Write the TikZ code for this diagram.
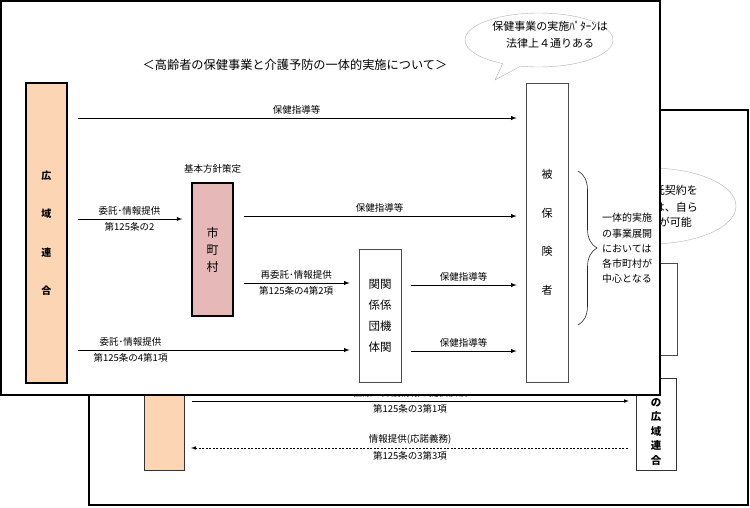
\documentclass[tikz,border=0pt]{standalone}
\usepackage{fontspec}
\setmainfont{Noto Sans CJK JP}
\usetikzlibrary{positioning,shapes.geometric,shapes.callouts,decorations.pathreplacing}
\definecolor{peach}{RGB}{252,213,180}
\definecolor{rose}{RGB}{230,185,184}

\begin{document}
\begin{tikzpicture}[x=1pt, y=-1pt, >=latex,
  card/.style = {draw, fill=white, line width=1.5pt},
  box/.style = {draw, rectangle, inner sep=0pt, align=center},
  lbl/.style = {font=\fontsize{9.5}{11}\selectfont, inner sep=3pt},
  arr/.style = {->, line width=0.9pt, shorten <=10pt, shorten >=9pt},
  thinarr/.style = {line width=0.6pt, shorten <=8pt, shorten >=7pt},
  memotext/.style = {font=\fontsize{11}{17}\selectfont, inner sep=0pt}]
\useasboundingbox (0,0) rectangle (750,507);

% back page
\draw[card] (89,110) rectangle (748,505);
\node[ellipse, draw=gray!60, minimum width=172pt, minimum height=76pt] (memo2) at (650,206) {};
\node[memotext, anchor=east] (m1) at (698,190) {託契約を};
\node[memotext, anchor=east] (m2) at (698,207) {は、自ら};
\node[memotext, anchor=east] (m3) at (692,222) {が可能};
\node[box, draw=gray!60!black, minimum width=41pt, minimum height=92pt] (r1) at (656.5,309) {};
\node[box, fill=peach, draw=gray!40!black, minimum width=40pt, minimum height=170pt] (kouiki2) at (164,385) {};
\node[box, draw=gray!40!black, minimum width=40pt, minimum height=92pt] (r2) at (656,424) {};
\node[font=\bfseries\fontsize{10.5}{14.5}\selectfont, align=center, inner sep=0pt] (r2txt) at (656,432) {の\\広\\域\\連\\合};
\draw[thinarr, ->] (kouiki2.east |- 0,401) -- (r2.west |- 0,401)
  node[lbl, midway, above] (b1) {医療・介護情報の提供依頼}
  node[lbl, midway, below] (b2) {第125条の3第1項};
\draw[thinarr, ->, dash pattern=on 2pt off 1.5pt] (r2.west |- 0,448) -- (kouiki2.east |- 0,448)
  node[lbl, midway, above] (b3) {情報提供(応諾義務)}
  node[lbl, midway, below] (b4) {第125条の3第3項};

% front page
\draw[card] (1,1) rectangle (660,395);
\node[font=\fontsize{12.2}{14}\selectfont] (title) at (295,65) {＜高齢者の保健事業と介護予防の一体的実施について＞};
\node[ellipse callout, draw=gray!60, fill=white, minimum width=148pt, minimum height=54pt,
  callout absolute pointer={(495,80)}] (memo) at (539,40) {};
\node[memotext, align=center] (memotxt) at (550,34.5) {保健事業の実施ﾊﾟﾀｰﾝは\\法律上４通りある};

\node[box, fill=peach, line width=1.5pt, minimum width=41pt, minimum height=300pt,
  font=\bfseries\fontsize{10}{38.5}\selectfont] (kouiki) at (46.5,233) {広\\域\\連\\合};
\node[box, fill=rose, line width=1.5pt, minimum width=41pt, minimum height=133pt,
  font=\fontsize{12}{17}\selectfont] (shi) at (212.5,249.5) {市\\町\\村};
\node[font=\fontsize{9.5}{11}\selectfont, inner sep=1pt] (kihon) [above=8pt of shi] {基本方針策定};
\node[box, draw=gray!60!black, line width=0.8pt, minimum width=42pt, minimum height=299pt,
  font=\fontsize{11}{38.5}\selectfont] (hiho) at (547,232.5) {被\\保\\険\\者};
\node[box, draw=gray!60!black, line width=0.8pt, minimum width=42pt, minimum height=133pt,
  font=\fontsize{11.5}{21}\selectfont] (kan) at (380,315.5) {関関\\係係\\団機\\体関};

\draw[arr] (kouiki.east |- 0,118) -- (hiho.west |- 0,118) node[lbl, midway, above] (l1) {保健指導等};
\draw[arr] (kouiki.east |- 0,219) -- (shi.west |- 0,219)
  node[lbl, midway, above] (l2) {委託･情報提供}
  node[lbl, midway, below] (l3) {第125条の2};
\draw[arr] (shi.east |- 0,216) -- (hiho.west |- 0,216) node[lbl, midway, above] (l4) {保健指導等};
\draw[arr] (shi.east |- 0,283) -- (kan.west |- 0,283)
  node[lbl, midway, above] (l5) {再委託･情報提供}
  node[lbl, midway, below] (l6) {第125条の4第2項};
\draw[arr] (kouiki.east |- 0,350) -- (kan.west |- 0,350)
  node[lbl, pos=0.216, above] (l7) {委託･情報提供}
  node[lbl, pos=0.216, below] (l8) {第125条の4第1項};
\draw[arr] (kan.east |- 0,285) -- (hiho.west |- 0,285) node[lbl, midway, above] (l9) {保健指導等};
\draw[arr] (kan.east |- 0,351) -- (hiho.west |- 0,351) node[lbl, midway, above] (l10) {保健指導等};

% brace and note
\draw[decorate, decoration={brace, amplitude=19pt}, line width=0.6pt, gray!30!black] (578,171) -- (578,325);
\node[anchor=west, align=left, font=\fontsize{10}{15.2}\selectfont, inner sep=0pt] (note) at (602,248.5)
  {一体的実施\\の事業展開\\においては\\各市町村が\\中心となる};
\end{tikzpicture}
\end{document}
